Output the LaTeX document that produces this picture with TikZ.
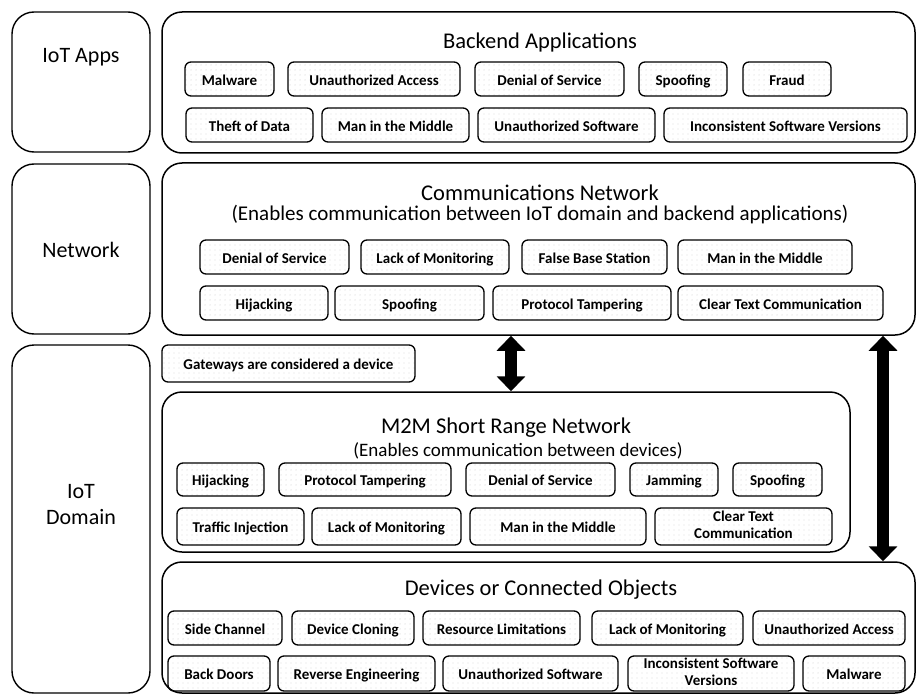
\documentclass[tikz,border=0pt]{standalone}
\usepackage{fontspec}
\setmainfont{Carlito}
\usetikzlibrary{arrows.meta,patterns}
\pgfdeclarepatternformonly{finedots}{\pgfpointorigin}{\pgfqpoint{4.5pt}{4.5pt}}{\pgfqpoint{4.5pt}{4.5pt}}{%
  \pgfpathcircle{\pgfqpoint{2.25pt}{2.25pt}}{0.45pt}\pgfusepath{fill}}
\newcommand{\threatstrut}{\rule[-4pt]{0pt}{20.5pt}}
\begin{document}
\begin{tikzpicture}[
    x=1pt, y=-1pt,
    side/.style={draw, line width=1.4pt, rounded corners=22pt, minimum width=138pt, inner sep=0pt},
    sidelbl/.style={align=center, font=\fontsize{22}{26}\selectfont, inner sep=0pt},
    layer/.style={draw, line width=1.5pt, rounded corners=20pt, inner sep=0pt},
    title/.style={align=center, font=\fontsize{22.5}{22}\selectfont, inner sep=0pt},
    threat/.style={draw, line width=1.3pt, rounded corners=6pt, pattern=finedots, pattern color=black!40, minimum height=34pt, inner sep=0pt, align=center, font=\fontsize{15}{16.5}\selectfont\bfseries, execute at begin node=\threatstrut, execute at end node=\threatstrut},
    bigarrow/.style={{Triangle[width=28pt,length=15pt]}-{Triangle[width=28pt,length=15pt]}, line width=12pt}
  ]
    \useasboundingbox (0,0) rectangle (917,695);
    \node[side, minimum height=140pt] (apps) at (81,82) {};
    \node[sidelbl] (appslbl) at (81,57) {IoT Apps};
    \node[side, minimum height=170pt] (net) at (81,249) {};
    \node[sidelbl] (netlbl) at (81,250) {Network};
    \node[side, minimum height=348pt] (domain) at (81,519) {};
    \node[sidelbl] (domainlbl) at (81,505) {IoT\\Domain};

    \node[layer, minimum width=753pt, minimum height=141pt] (backend) at (538.5,82.5) {};
    \node[title] (backendttl) at (540,43) {Backend Applications};
    \node[threat, minimum width=89pt] (ba1) at (229.5,79) {Malware};
    \node[threat, minimum width=172pt] (ba2) at (374,79) {Unauthorized Access};
    \node[threat, minimum width=149pt] (ba3) at (549.5,79) {Denial of Service};
    \node[threat, minimum width=88pt] (ba4) at (683,79) {Spoofing};
    \node[threat, minimum width=88pt] (ba5) at (787,79) {Fraud};
    \node[threat, minimum width=127pt] (ba6) at (249.5,125) {Theft of Data};
    \node[threat, minimum width=147pt] (ba7) at (395.5,125) {Man in the Middle};
    \node[threat, minimum width=177pt] (ba8) at (566.5,125) {Unauthorized Software};
    \node[threat, minimum width=243pt] (ba9) at (785.5,125) {Inconsistent Software Versions};

    \node[layer, minimum width=753pt, minimum height=172pt] (comms) at (538.5,249) {};
    \node[title] (commsttl) at (540,193) {Communications Network};
    \node[title, font=\fontsize{21}{22}\selectfont] (commssub) at (540,215) {(Enables communication between IoT domain and backend applications)};
    \node[threat, minimum width=149pt] (cn1) at (274.5,257) {Denial of Service};
    \node[threat, minimum width=148pt] (cn2) at (435,257) {Lack of Monitoring};
    \node[threat, minimum width=145pt] (cn3) at (594.5,257) {False Base Station};
    \node[threat, minimum width=174pt] (cn4) at (765,257) {Man in the Middle};
    \node[threat, minimum width=128pt] (cn5) at (264,303) {Hijacking};
    \node[threat, minimum width=149pt] (cn6) at (409.5,303) {Spoofing};
    \node[threat, minimum width=178pt] (cn7) at (582,303) {Protocol Tampering};
    \node[threat, minimum width=205pt] (cn8) at (780.5,303) {Clear Text Communication};

    \node[threat, minimum width=253pt, minimum height=37pt] (gateway) at (288.5,363.5) {Gateways are considered a device};

    \node[layer, minimum width=688pt, minimum height=160pt] (m2m) at (506,472) {};
    \node[title] (m2mttl) at (506,428) {M2M Short Range Network};
    \node[title, font=\fontsize{19}{22}\selectfont] (m2msub) at (518,451) {(Enables communication between devices)};
    \node[threat, minimum width=87pt, minimum height=33pt] (m1) at (220.5,479.5) {Hijacking};
    \node[threat, minimum width=172pt, minimum height=33pt] (m2) at (365,479.5) {Protocol Tampering};
    \node[threat, minimum width=149pt, minimum height=33pt] (m3) at (540.5,479.5) {Denial of Service};
    \node[threat, minimum width=88pt, minimum height=33pt] (m4) at (674,479.5) {Jamming};
    \node[threat, minimum width=89pt, minimum height=33pt] (m5) at (777.5,479.5) {Spoofing};
    \node[threat, minimum width=127pt, minimum height=37pt] (m6) at (240.5,526.5) {Traffic Injection};
    \node[threat, minimum width=149pt, minimum height=37pt] (m7) at (386.5,526.5) {Lack of Monitoring};
    \node[threat, minimum width=176pt, minimum height=37pt] (m8) at (558,526.5) {Man in the Middle};
    \node[threat, minimum width=177pt, minimum height=37pt] (m9) at (743.5,526.5) {Clear Text\\Communication};

    \node[layer, minimum width=753pt, minimum height=131pt] (devices) at (538.5,627.5) {};
    \node[title] (devicesttl) at (541,590) {Devices or Connected Objects};
    \node[threat, minimum width=114pt] (d1) at (225,628) {Side Channel};
    \node[threat, minimum width=122pt] (d2) at (353,628) {Device Cloning};
    \node[threat, minimum width=157pt] (d3) at (501.5,628) {Resource Limitations};
    \node[threat, minimum width=151pt] (d4) at (667.5,628) {Lack of Monitoring};
    \node[threat, minimum width=152pt] (d5) at (829,628) {Unauthorized Access};
    \node[threat, minimum width=102pt, minimum height=35pt] (d6) at (219,673.5) {Back Doors};
    \node[threat, minimum width=157pt, minimum height=35pt] (d7) at (356.5,673.5) {Reverse Engineering};
    \node[threat, minimum width=175pt, minimum height=35pt] (d8) at (530.5,673.5) {Unauthorized Software};
    \node[threat, minimum width=166pt, minimum height=35pt] (d9) at (711,673.5) {Inconsistent Software\\Versions};
    \node[threat, minimum width=102pt, minimum height=35pt] (d10) at (854,673.5) {Malware};

    \coordinate (arrA) at (511,0);
    \coordinate (arrB) at (883,0);
    \draw[bigarrow] (comms.south -| arrA) -- (m2m.north -| arrA);
    \draw[bigarrow] (comms.south -| arrB) -- (devices.north -| arrB);
  \end{tikzpicture}
\end{document}
